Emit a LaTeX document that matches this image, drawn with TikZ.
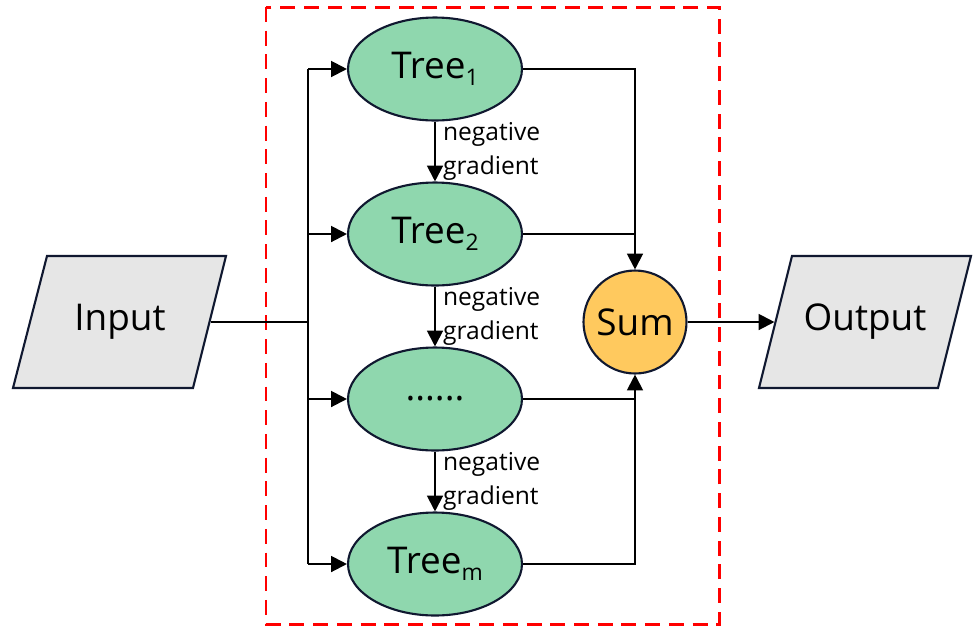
\documentclass[tikz,border=0pt]{standalone}
\usepackage{fontspec}
\setmainfont{Open Sans}
\usetikzlibrary{shapes.geometric,arrows.meta}
\definecolor{treegreen}{HTML}{8FD7AE}
\definecolor{sumyellow}{HTML}{FFC95E}
\definecolor{iogray}{HTML}{E6E6E6}
\definecolor{edgeblue}{HTML}{101830}
\newcommand{\treeidx}[1]{\raisebox{-0.35ex}{\fontsize{13}{13}\selectfont #1}}
\begin{document}
\begin{tikzpicture}[x=0.02cm, y=-0.02cm,
  every node/.style = {draw=edgeblue, line width=1.2pt, inner sep=0pt, font=\fontsize{21}{25}\selectfont},
  tree/.style = {ellipse, fill=treegreen, minimum width=3.48cm, minimum height=2.06cm},
  iobox/.style = {draw=edgeblue, line width=1.2pt, fill=iogray},
  iotext/.style = {draw=none, minimum width=3.58cm, minimum height=2.64cm},
  gradlabel/.style = {draw=none, font=\fontsize{14}{19}\selectfont, align=left, right, xshift=4pt},
  link/.style = {line width=1.2pt, -{Triangle[length=9pt,width=9pt]}},
  wire/.style = {line width=1.2pt}
  ]
  \useasboundingbox (0,0) rectangle (974,630);
  \draw[red, line width=1.7pt, dash pattern=on 8.5pt off 5pt] (266,7) rectangle (719,624);
  \draw[iobox] (13,388) -- (47,256) -- (226,256) -- (193,388) -- cycle;
  \draw[iobox] (759,388) -- (792,256) -- (971,256) -- (938,388) -- cycle;
  \node[iotext] (input) at (120,322) {Input};
  \node[iotext] (output) at (865,322) {Output};
  \node[tree] (t1) at (435,69) {Tree\treeidx{1}};
  \node[tree] (t2) at (435,234) {Tree\treeidx{2}};
  \node[tree] (td) at (435,399) {......};
  \node[tree] (tm) at (435,564) {Tree\treeidx{m}};
  \node[circle, fill=sumyellow, minimum size=2.06cm] (sum) at (635,322) {Sum};
  \coordinate (split) at (308,322);
  \draw[wire] (input.east) -- (split);
  \draw[wire] (split |- t1) -- (split |- tm);
  \foreach \t in {t1,t2,td,tm}
    \draw[link] (split |- \t) -- (\t);
  \draw[link] (t1) -- (t2) node[gradlabel, midway] {negative\\gradient};
  \draw[link] (t2) -- (td) node[gradlabel, midway] {negative\\gradient};
  \draw[link] (td) -- (tm) node[gradlabel, midway] {negative\\gradient};
  \draw[link] (t1.east) -| (sum.north);
  \draw[wire] (t2.east) -- (t2 -| sum);
  \draw[link] (tm.east) -| (sum.south);
  \draw[wire] (td.east) -- (td -| sum);
  \draw[link] (sum) -- (output);
\end{tikzpicture}
\end{document}
